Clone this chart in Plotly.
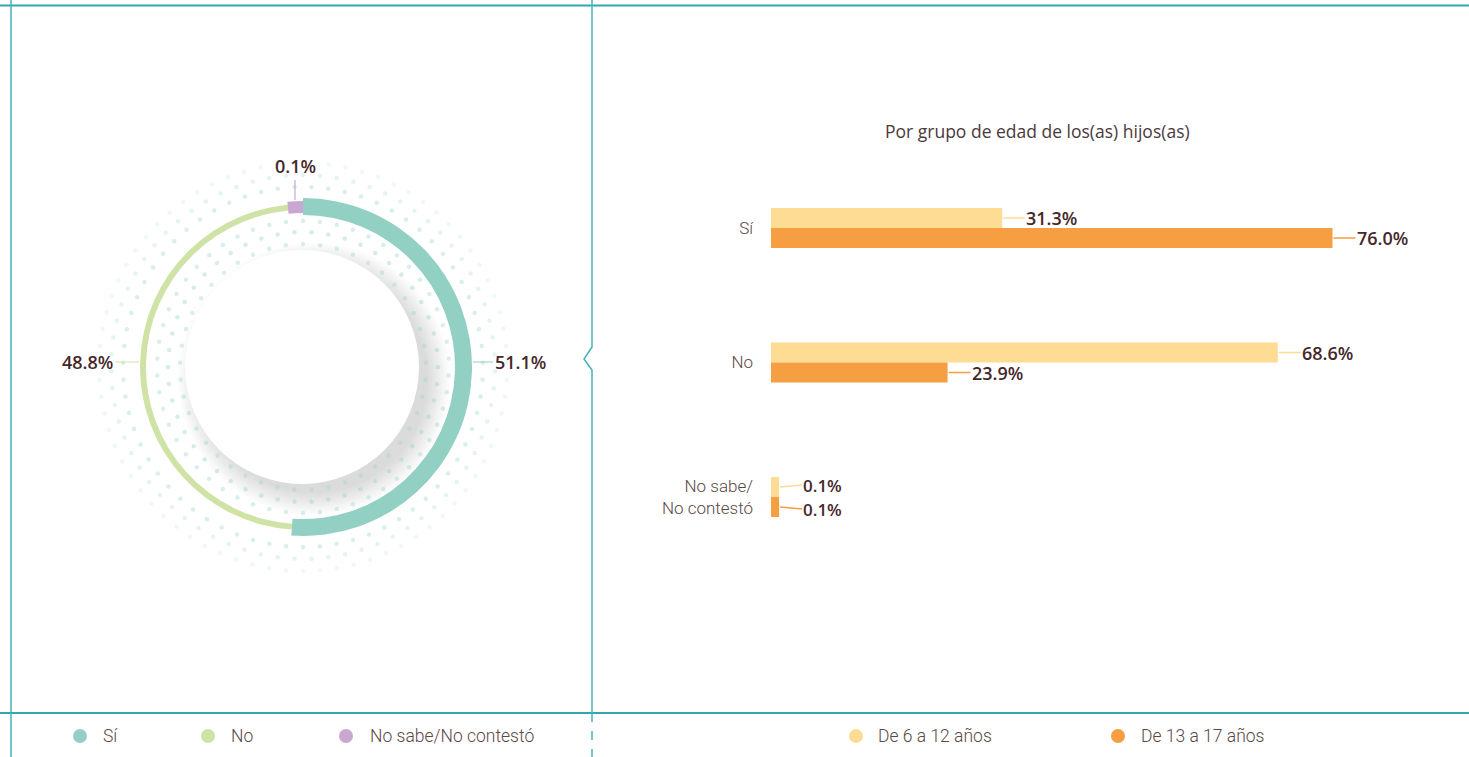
import math
import plotly.graph_objects as go

# ---------------- data ----------------
donut_labels = ["Sí", "No", "No sabe/No contestó"]
donut_values = [51.1, 48.8, 0.1]
donut_colors = ["#93d0c4", "#d0e3a6", "#c8a8d3"]

bar_categories = ["Sí", "No", "No sabe/<br>No contestó"]
series_names = ["De 6 a 12 años", "De 13 a 17 años"]
series_6_12 = [31.3, 68.6, 0.1]
series_13_17 = [76.0, 23.9, 0.1]
series_colors = ["#fedc94", "#f59e42"]

bar_title = "Por grupo de edad de los(as) hijos(as)"

# ---------------- page geometry ----------------
W, H = 1469, 757
TEAL = "#2fa8ae"
VALUE_COLOR = "#46282a"
TEXT_COLOR = "#5a4848"
VALUE_FONT = dict(family="Open Sans", size=18, color=VALUE_COLOR, weight=600)
SMALL_VALUE_FONT = dict(family="Open Sans", size=17, color=VALUE_COLOR, weight=600)
LIGHT_FONT = dict(family="Roboto", size=17, color=TEXT_COLOR, weight=300)
LEGEND_FONT = dict(family="Roboto", size=17.5, color=TEXT_COLOR, weight=300)


def px(x):
    return x / W


def py(y):
    return 1 - y / H


fig = go.Figure()

# ---------------- donut (polar) ----------------
CX, CY, RMAX = 303, 367, 210
polar_domain = dict(x=[px(CX - RMAX), px(CX + RMAX)], y=[py(CY + RMAX), py(CY - RMAX)])

# decorative dotted rings
dot_rings = [(123, 0.4), (135, 0.45), (146, 0.4), (180, 0.4), (192, 0.28), (204, 0.18)]
for i, (rr, alpha) in enumerate(dot_rings):
    n = int(round(2 * math.pi * rr / 17))
    step = 360 / n
    th = [(k + 0.5 * (i % 2)) * step for k in range(n)]
    fig.add_trace(go.Scatterpolar(
        r=[rr] * n, theta=th, mode="markers",
        marker=dict(size=4.5, color=f"rgba(160,214,204,{alpha})"),
        hoverinfo="skip", showlegend=False, subplot="polar"))

# ring geometry (style): inner radius and thickness per slice
ring_base = [152, 157, 154]
ring_thick = [17, 6, 12]
min_span = 5.4  # degrees, so tiny slices stay visible

spans = [v / sum(donut_values) * 360 for v in donut_values]
start = 0
for i, (lab, sp) in enumerate(zip(donut_labels, spans)):
    if i < 2:
        center = start + sp / 2
        width = sp
    else:
        width = max(sp, min_span)
        center = 360 - width / 2
    fig.add_trace(go.Barpolar(
        r=[ring_thick[i]], base=[ring_base[i]], theta=[center], width=[width],
        marker=dict(color=donut_colors[i], line=dict(width=0)),
        name=lab, showlegend=False, hoverinfo="skip", subplot="polar"))
    start += sp

fig.update_layout(polar=dict(
    domain=polar_domain,
    bgcolor="rgba(0,0,0,0)",
    radialaxis=dict(visible=False, range=[0, RMAX]),
    angularaxis=dict(visible=False, direction="clockwise", rotation=90),
    barmode="overlay",
))

shapes = []
# soft shadow under the inner white disc (offset to bottom-right)
for k in range(12):
    r = 136 - k * 2.0
    shapes.append(dict(type="circle", xref="paper", yref="paper", layer="below",
                       x0=px(CX + 11 - r), x1=px(CX + 11 + r), y0=py(CY + 12 + r), y1=py(CY + 12 - r),
                       fillcolor="rgba(140,140,158,0.028)", line=dict(width=0)))
RW = 117
shapes.append(dict(type="circle", xref="paper", yref="paper", layer="below",
                   x0=px(CX - 1 - RW), x1=px(CX - 1 + RW), y0=py(CY + RW), y1=py(CY - RW),
                   fillcolor="white", line=dict(width=0)))

annotations = []
fmt = lambda v: f"{v:.1f}%"
# donut value labels with leader lines
annotations.append(dict(xref="paper", yref="paper", x=px(CX + 170), y=py(362),
                        text=fmt(donut_values[0]), showarrow=True, arrowhead=0, arrowwidth=1.2,
                        arrowcolor=donut_colors[0], ax=20, ay=0, xanchor="left", yanchor="middle",
                        font=VALUE_FONT))
annotations.append(dict(xref="paper", yref="paper", x=px(CX - 164), y=py(362),
                        text=fmt(donut_values[1]), showarrow=True, arrowhead=0, arrowwidth=1.2,
                        arrowcolor=donut_colors[1], ax=-24, ay=0, xanchor="right", yanchor="middle",
                        font=VALUE_FONT))
annotations.append(dict(xref="paper", yref="paper", x=px(295), y=py(200),
                        text=fmt(donut_values[2]), showarrow=True, arrowhead=0, arrowwidth=1.2,
                        arrowcolor=donut_colors[2], ax=0, ay=-20, xanchor="center", yanchor="bottom",
                        font=VALUE_FONT))

# ---------------- grouped horizontal bars ----------------
min_bar = 1.1  # minimum drawn length so tiny shares stay visible
for name, vals, col in zip(series_names, [series_6_12, series_13_17], series_colors):
    fig.add_trace(go.Bar(
        y=bar_categories, x=[max(v, min_bar) for v in vals], orientation="h", name=name,
        marker=dict(color=col, line=dict(width=0)),
        showlegend=False, hoverinfo="skip", xaxis="x", yaxis="y"))

XL, XR = 771, 1399
CAT_TOP, CAT_BOT = 228, 497
half = (CAT_BOT - CAT_TOP) / 4
fig.update_layout(
    barmode="group", bargap=0.7026, bargroupgap=0,
    xaxis=dict(domain=[px(XL), px(XR)], range=[0, 85], visible=False, fixedrange=True),
    yaxis=dict(domain=[py(CAT_BOT + half), py(CAT_TOP - half)], autorange="reversed",
               type="category", showgrid=False, zeroline=False, showline=False, ticks="",
               tickfont=LIGHT_FONT, ticklabelstandoff=17, fixedrange=True),
)

for vals, col, ys, tilt in zip([series_6_12, series_13_17], series_colors, [10, -10], [-2, 2]):
    for cat, v in zip(bar_categories, vals):
        small = v < 1
        annotations.append(dict(xref="x", yref="y", x=max(v, min_bar), y=cat, yshift=ys, xshift=1,
                                text=fmt(v), showarrow=True, arrowhead=0, arrowwidth=1.5,
                                arrowcolor=col, ax=22, ay=tilt if small else 0,
                                xanchor="left", yanchor="middle", borderpad=0,
                                font=SMALL_VALUE_FONT if small else VALUE_FONT))

annotations.append(dict(xref="paper", yref="paper", x=px(1037), y=py(131),
                        text=bar_title, showarrow=False, xanchor="center", yanchor="middle",
                        font=dict(family="Open Sans", size=17.5, color="#4a3a3a")))

# ---------------- frame lines ----------------
line_main = dict(color=TEAL, width=2)
line_thin = dict(color="#45b2b8", width=1.5)
shapes += [
    dict(type="line", xref="paper", yref="paper", x0=0, x1=1, y0=py(5.5), y1=py(5.5), line=line_main),
    dict(type="line", xref="paper", yref="paper", x0=0, x1=1, y0=py(713), y1=py(713), line=line_main),
    dict(type="line", xref="paper", yref="paper", x0=px(11), x1=px(11), y0=0, y1=1, line=line_thin),
    dict(type="path", xref="paper", yref="paper", line=line_thin,
         path=f"M {px(592)},{py(0)} L {px(592)},{py(347)} L {px(584)},{py(359)} "
              f"L {px(592)},{py(370)} L {px(592)},{py(713)}"),
    dict(type="line", xref="paper", yref="paper", x0=px(592), x1=px(592), y0=py(713), y1=0,
         line=dict(color="#45b2b8", width=1.5, dash="dash")),
]

# ---------------- custom legends ----------------
LEG_Y = 736
legend_items = [
    (80, 101, donut_labels[0], donut_colors[0]),
    (208, 229, donut_labels[1], donut_colors[1]),
    (346, 368, donut_labels[2], donut_colors[2]),
    (856, 876, series_names[0], series_colors[0]),
    (1118, 1139, series_names[1], series_colors[1]),
]
for cx, tx, lab, col in legend_items:
    r = 7
    shapes.append(dict(type="circle", xref="paper", yref="paper",
                       x0=px(cx - r), x1=px(cx + r), y0=py(LEG_Y + r), y1=py(LEG_Y - r),
                       fillcolor=col, line=dict(width=0)))
    annotations.append(dict(xref="paper", yref="paper", x=px(tx), y=py(LEG_Y), text=lab,
                            showarrow=False, xanchor="left", yanchor="middle",
                            font=LEGEND_FONT))

fig.update_layout(
    width=W, height=H, margin=dict(l=0, r=0, t=0, b=0),
    paper_bgcolor="white", plot_bgcolor="rgba(0,0,0,0)",
    shapes=shapes, annotations=annotations, showlegend=False,
)

fig.write_html("out.html", config={"displayModeBar": False},
               post_script="document.body.style.margin='0px';document.body.style.overflow='hidden';")
